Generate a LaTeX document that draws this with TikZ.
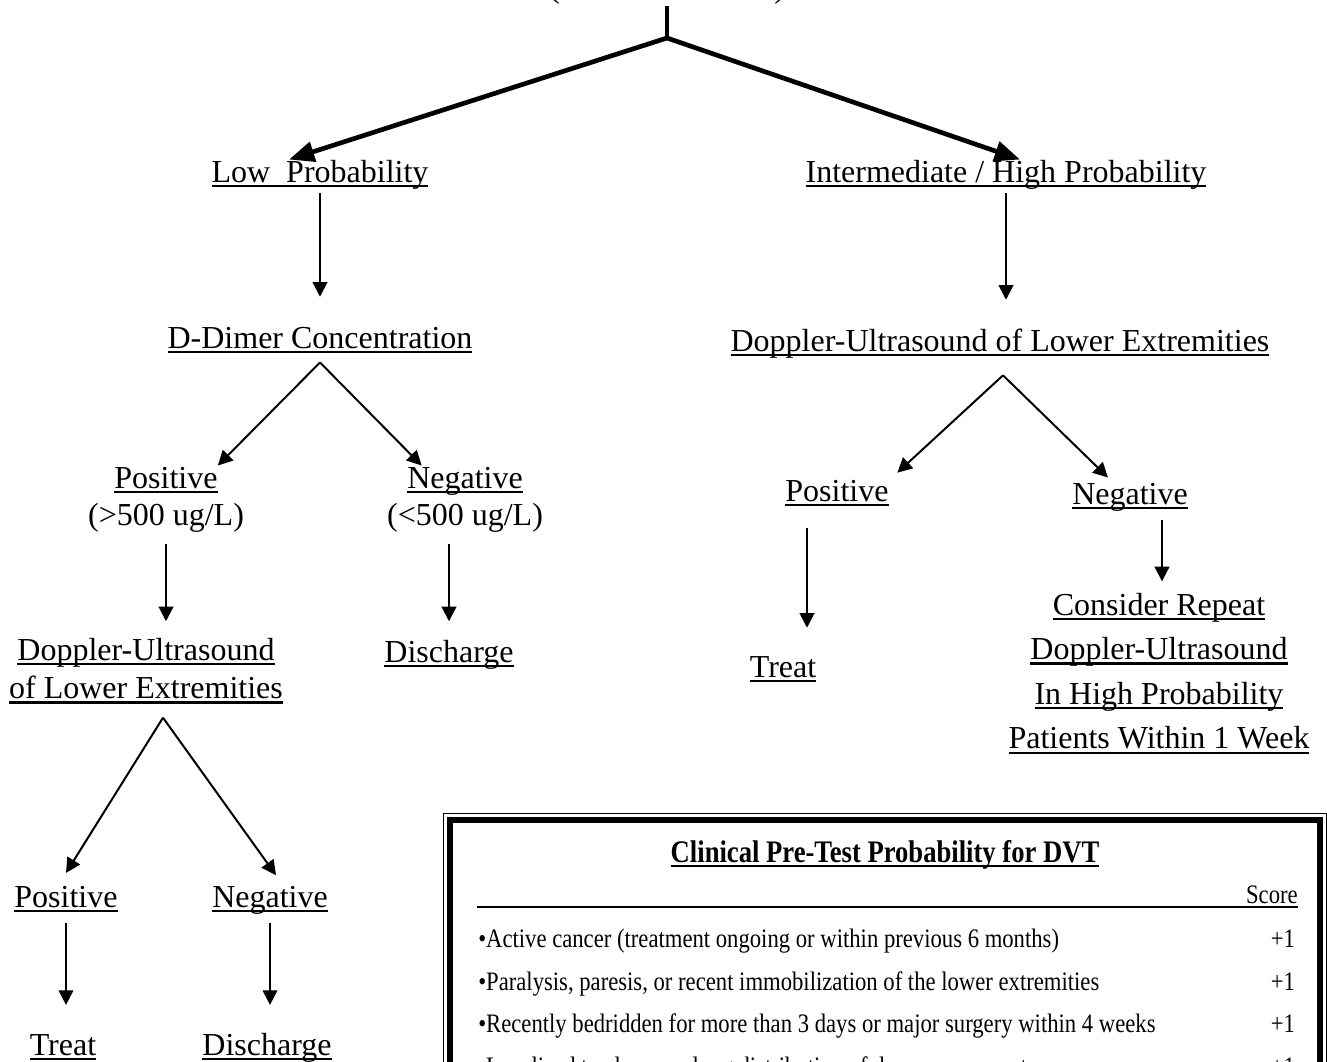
\documentclass[tikz,border=0pt]{standalone}
\usepackage{fontspec}
\setmainfont{Liberation Serif}
\newfontfamily\boxfont[FakeStretch=0.85]{Liberation Serif}
\usetikzlibrary{arrows.meta,positioning}

% underline at a fixed depth, as a word processor does it
\newcommand{\uln}[1]{\setbox0=\hbox{#1}\rlap{\rule[-0.15em]{\wd0}{0.065em}}\box0}

\tikzset{
  lbl/.style={font=\fontsize{24}{28}\selectfont, inner sep=0pt, text height=16.8pt, text depth=6pt},
  boxtxt/.style={font=\boxfont\fontsize{20}{24}\selectfont, inner sep=0pt, anchor=base west},
  arr/.style={-{Triangle[length=11pt,width=11pt]}, line width=1.5pt},
  forkarr/.style={{Triangle[length=19pt,width=15pt]}-{Triangle[length=19pt,width=15pt]}, line width=3.5pt},
}

\begin{document}
\begin{tikzpicture}[x=0.75pt,y=-0.75pt]
	\useasboundingbox (0,0) rectangle (1327,1062);

	\node[lbl,anchor=base] (topnote)
	  at (667,-2) {(\hspace{161pt})};
	\coordinate (fork) at (667,38);

	\node[lbl] (lowprob)
	  at (320,175) {\uln{Low~~Probability}};
	\node[lbl] (interm)
	  at (1006,175) {\uln{Intermediate / High Probability}};

	% low probability branch
	\node[lbl] (ddimer)
	  at (320,341) {\uln{D-Dimer Concentration}};
	\node[lbl] (pos1)
	  at (166,481) {\uln{Positive}};
	\node[lbl] (pos1val)
	  [below=4.95pt of pos1] {(>500 ug/L)};
	\node[lbl] (neg1)
	  at (465,481) {\uln{Negative}};
	\node[lbl] (neg1val)
	  [below=4.95pt of neg1] {(<500 ug/L)};
	\node[lbl] (dopL1)
	  at (146,653) {\uln{Doppler-Ultrasound}};
	\node[lbl] (dopL2)
	  [below=5.7pt of dopL1] {\uln{of Lower Extremities}};
	\node[lbl] (disch1)
	  at (449,655) {\uln{Discharge}};
	\node[lbl] (pos2)
	  at (66,900) {\uln{Positive}};
	\node[lbl] (neg2)
	  at (270,900) {\uln{Negative}};
	\node[lbl] (treat2)
	  at (63,1048) {\uln{Treat}};
	\node[lbl] (disch2)
	  at (267,1048) {\uln{Discharge}};

	% intermediate / high probability branch
	\node[lbl] (dopR)
	  at (1000,344) {\uln{Doppler-Ultrasound of Lower Extremities}};
	\node[lbl] (posR)
	  at (837,494) {\uln{Positive}};
	\node[lbl] (negR)
	  at (1130,497) {\uln{Negative}};
	\node[lbl] (treatR)
	  at (783,670) {\uln{Treat}};
	\node[lbl] (cons1)
	  at (1159,608) {\uln{Consider Repeat}};
	\node[lbl] (cons2)
	  [below=10.2pt of cons1] {\uln{Doppler-Ultrasound}};
	\node[lbl] (cons3)
	  [below=10.2pt of cons2] {\uln{In High Probability}};
	\node[lbl] (cons4)
	  [below=10.2pt of cons3] {\uln{Patients Within 1 Week}};

	\draw[line width=3.5pt] (topnote.south)--(fork);
	\draw[forkarr] ([xshift=-23.25pt]lowprob.north)--(fork)--([xshift=10.5pt]interm.north);

	\draw[arr,shorten <=2pt,shorten >=21.6pt] (lowprob.south)--(ddimer.north);
	\draw[arr] ([yshift=-4.5pt]ddimer.south)--(pos1.north east);
	\draw[arr] ([yshift=-4.5pt]ddimer.south)--([xshift=11pt]neg1.north west);
	\draw[arr,shorten <=7.4pt,shorten >=12.2pt] (pos1val.south)--(pos1val.south |- dopL1.north);
	\draw[arr,shorten <=7.4pt,shorten >=13.7pt] (neg1val.south -| disch1.north)--(disch1.north);
	\draw[arr] ([xshift=12.75pt,yshift=-8pt]dopL2.south)--([yshift=8.7pt]pos2.north);
	\draw[arr] ([xshift=12.75pt,yshift=-8pt]dopL2.south)--([xshift=4.5pt,yshift=7pt]neg2.north);
	\draw[arr,shorten <=5.9pt,shorten >=20.7pt] (pos2.south)--(pos2.south |- treat2.north);
	\draw[arr,shorten <=5.9pt,shorten >=20.7pt] (neg2.south)--(neg2.south |- disch2.north);

	\draw[arr,shorten <=2pt,shorten >=21.6pt] (interm.south)--(interm.south |- dopR.north);
	\draw[arr] ([xshift=2.25pt,yshift=-11.9pt]dopR.south)--([xshift=6.4pt,yshift=4.4pt]posR.north east);
	\draw[arr] ([xshift=2.25pt,yshift=-11.9pt]dopR.south)--([xshift=-16.5pt,yshift=3pt]negR.north);
	\draw[arr,shorten <=14.1pt,shorten >=20.1pt] ([xshift=-22.5pt]posR.south)--([xshift=18pt]treatR.north);
	\draw[arr,shorten <=5.9pt,shorten >=8.4pt] ([xshift=24pt]negR.south)--([xshift=2.25pt]cons1.north);

	% score box
	\draw[line width=0.75pt] (443,813) rectangle (1326,1100);
	\draw[line width=4.5pt] (450,820) rectangle (1320,1100);
	\node[font=\boxfont\bfseries\fontsize{23.5}{28}\selectfont,inner sep=0pt,anchor=base] (boxtitle)
	  at (885,862) {\uln{Clinical Pre-Test Probability for DVT}};
	\draw[line width=1.5pt] (477,907)--(1298,907);
	\node[boxtxt,anchor=base east] (score)
	  at (1298,903) {Score};

	\node[boxtxt] (item1)
	  at (478,947) {•Active cancer (treatment ongoing or within previous 6 months)};
	\node[boxtxt] (item2)
	  at (478,990) {•Paralysis, paresis, or recent immobilization of the lower extremities};
	\node[boxtxt] (item3)
	  at (478,1032) {•Recently bedridden for more than 3 days or major surgery within 4 weeks};
	\node[boxtxt] (item4)
	  at (478,1075) {•Localized tenderness along distribution of deep venous system};

	\node[boxtxt,anchor=base] (pts1) at (1283,947) {+1};
	\node[boxtxt,anchor=base] (pts2) at (1283,990) {+1};
	\node[boxtxt,anchor=base] (pts3) at (1283,1032) {+1};
	\node[boxtxt,anchor=base] (pts4) at (1283,1075) {+1};
\end{tikzpicture}
\end{document}
